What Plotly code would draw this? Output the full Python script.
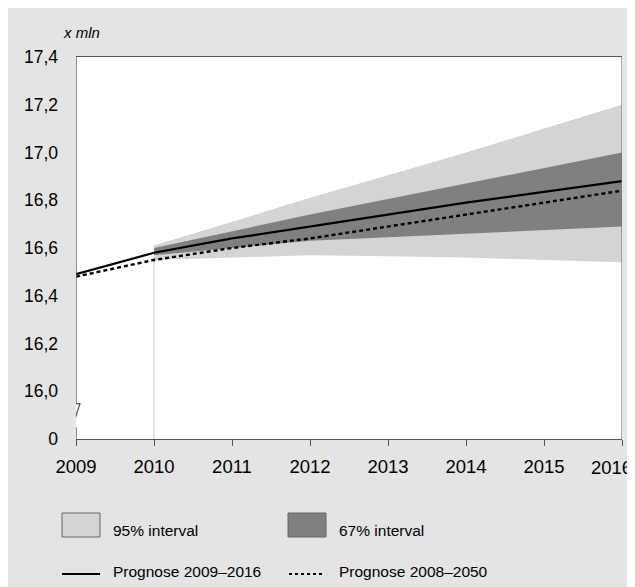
import plotly.graph_objects as go

# ---------------- data ----------------
years_line = [2009, 2010, 2011, 2012, 2013, 2014, 2015, 2016]
prognose_2009_2016 = [16.49, 16.58, 16.64, 16.69, 16.74, 16.79, 16.835, 16.88]
prognose_2008_2050 = [16.48, 16.55, 16.60, 16.64, 16.69, 16.74, 16.79, 16.84]

years_band = [2010, 2011, 2012, 2013, 2014, 2015, 2016]
int95_low = [16.55, 16.56, 16.57, 16.565, 16.56, 16.55, 16.54]
int95_high = [16.61, 16.71, 16.81, 16.905, 17.00, 17.10, 17.20]
int67_low = [16.57, 16.60, 16.63, 16.645, 16.66, 16.675, 16.69]
int67_high = [16.60, 16.67, 16.74, 16.805, 16.87, 16.935, 17.00]

# y-axis: broken axis, bottom tick "0" sits one step below 16,0
y_tickvals = [15.8, 16.0, 16.2, 16.4, 16.6, 16.8, 17.0, 17.2, 17.4]
y_ticktext = ["0", "16,0", "16,2", "16,4", "16,6", "16,8", "17,0", "17,2", "17,4"]
x_tickvals = years_line
x_ticktext = [str(y) for y in years_line]

LIGHT = "#d3d4d5"
DARK = "#7f8080"
BG = "#e3e4e3"
AXIS = "#555555"
FONT = "Liberation Sans, Arial, Helvetica, sans-serif"

fig = go.Figure()

# 95% band
fig.add_trace(go.Scatter(x=years_band, y=int95_low, mode="lines", line=dict(width=0),
                         hoverinfo="skip", showlegend=False))
fig.add_trace(go.Scatter(x=years_band, y=int95_high, mode="lines", line=dict(width=0),
                         fill="tonexty", fillcolor=LIGHT, name="95% interval", showlegend=False))
# 67% band
fig.add_trace(go.Scatter(x=years_band, y=int67_low, mode="lines", line=dict(width=0),
                         hoverinfo="skip", showlegend=False))
fig.add_trace(go.Scatter(x=years_band, y=int67_high, mode="lines", line=dict(width=0),
                         fill="tonexty", fillcolor=DARK, name="67% interval", showlegend=False))
# lines
fig.add_trace(go.Scatter(x=years_line, y=prognose_2008_2050, mode="lines",
                         line=dict(color="black", width=2.4, dash="4px,3px"),
                         name="Prognose 2008–2050", showlegend=False))
fig.add_trace(go.Scatter(x=years_line, y=prognose_2009_2016, mode="lines",
                         line=dict(color="black", width=2.2),
                         name="Prognose 2009–2016", showlegend=False))

ymin, ymax = y_tickvals[0], y_tickvals[-1]
x0, x1 = years_line[0], years_line[-1]

shapes = []
# vertical thin line at forecast start
shapes.append(dict(type="line", xref="x", yref="y", x0=years_band[0], x1=years_band[0],
                   y0=ymin, y1=int95_low[0], line=dict(color="#c8c8c8", width=1), layer="below"))
# right border
shapes.append(dict(type="line", xref="x", yref="y", x0=x1, x1=x1, y0=ymin, y1=ymax,
                   line=dict(color="#777777", width=1.2)))
# left axis with break
brk_hi, brk_lo = 15.948, 15.846
dx = 0.05
shapes.append(dict(type="path", xref="x", yref="y",
                   path=f"M {x0},{ymax} L {x0},{brk_hi} L {x0+dx},{brk_hi} "
                        f"L {x0-dx},{brk_lo} L {x0},{brk_lo} L {x0},{ymin}",
                   line=dict(color=AXIS, width=1.3)))

# manual legend (paper coords; arguments are page pixels, plot area 76..622 x 57..439)
def px_x(p):
    return (p - 76) / 546
def px_y(p):
    return (439 - p) / 382

shapes.append(dict(type="rect", xref="paper", yref="paper", x0=px_x(62), x1=px_x(100),
                   y0=px_y(537), y1=px_y(513), fillcolor=LIGHT, line=dict(color="#666666", width=1)))
shapes.append(dict(type="rect", xref="paper", yref="paper", x0=px_x(288), x1=px_x(326),
                   y0=px_y(537), y1=px_y(513), fillcolor=DARK, line=dict(color="#666666", width=1)))
shapes.append(dict(type="line", xref="paper", yref="paper", x0=px_x(62), x1=px_x(100),
                   y0=px_y(574), y1=px_y(574), line=dict(color="black", width=2)))
shapes.append(dict(type="line", xref="paper", yref="paper", x0=px_x(289), x1=px_x(325),
                   y0=px_y(574), y1=px_y(574), line=dict(color="black", width=2.2, dash="3px,3px")))

annotations = [
    dict(text="<i>x mln</i>", xref="paper", yref="paper", x=px_x(61), y=px_y(32),
         xanchor="left", yanchor="middle", showarrow=False, font=dict(size=15, color="black", family=FONT)),
    dict(text="95% interval", xref="paper", yref="paper", x=px_x(111), y=px_y(530),
         xanchor="left", yanchor="middle", showarrow=False, font=dict(size=15.5, color="black", family=FONT)),
    dict(text="67% interval", xref="paper", yref="paper", x=px_x(337), y=px_y(530),
         xanchor="left", yanchor="middle", showarrow=False, font=dict(size=15.5, color="black", family=FONT)),
    dict(text="Prognose 2009–2016", xref="paper", yref="paper", x=px_x(111), y=px_y(571),
         xanchor="left", yanchor="middle", showarrow=False, font=dict(size=15.5, color="black", family=FONT)),
    dict(text="Prognose 2008–2050", xref="paper", yref="paper", x=px_x(337), y=px_y(571),
         xanchor="left", yanchor="middle", showarrow=False, font=dict(size=15.5, color="black", family=FONT)),
    # last year label, pushed inside the window edge as in the reference
    dict(text=x_ticktext[-1], xref="paper", yref="paper", x=px_x(634), y=px_y(467),
         xanchor="right", yanchor="middle", showarrow=False, font=dict(size=18.5, color="black", family=FONT)),
]

# page body has an 8px margin, so the figure's own coordinates are shifted by 8px
fig.update_layout(
    width=635, height=587,
    margin=dict(l=68, r=21, t=49, b=156),
    paper_bgcolor=BG, plot_bgcolor="white",
    font=dict(family=FONT, size=17, color="black"),
    shapes=shapes, annotations=annotations,
    xaxis=dict(range=[x0, x1], tickvals=x_tickvals, ticktext=x_ticktext[:-1] + [""],
               showgrid=False, zeroline=False, showline=True, linecolor=AXIS, linewidth=1.3,
               mirror=True, ticks="outside", ticklen=6, tickcolor=AXIS, tickwidth=1.2,
               ticklabelstandoff=5, ticklabeloverflow="allow", automargin=False,
               tickfont=dict(size=18.5)),
    yaxis=dict(range=[ymin, ymax], tickvals=y_tickvals, ticktext=y_ticktext,
               showgrid=False, zeroline=False, showline=False, ticks="", automargin=False,
               ticklabelstandoff=17, tickfont=dict(size=17.5)),
)

fig.write_html("out.html")
